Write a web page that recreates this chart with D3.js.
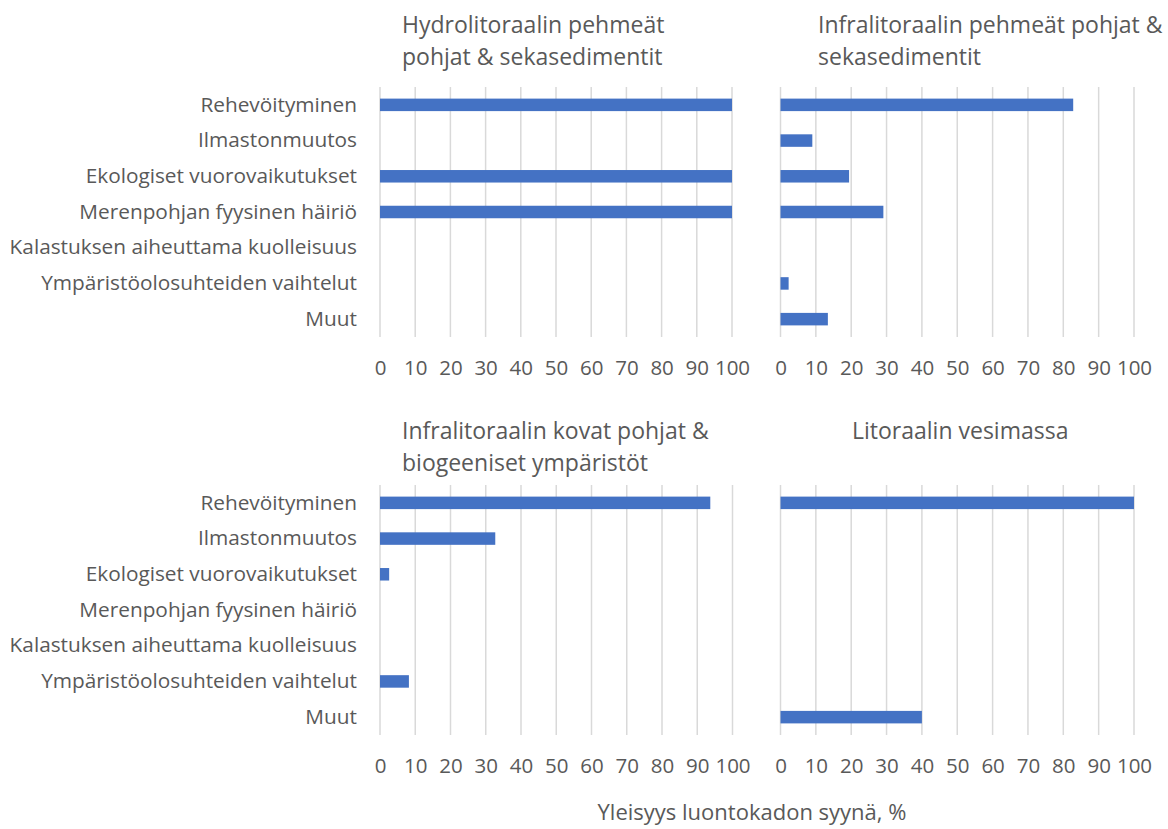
<!DOCTYPE html>
<html>
<head>
<meta charset="utf-8">
<script src="https://cdn.jsdelivr.net/npm/d3@7"></script>
<style>
  html, body { margin: 0; padding: 0; background: #ffffff; }
  svg { display: block; }
  text { font-family: "Open Sans", "Noto Sans", sans-serif; fill: #595959; }
</style>
</head>
<body>
<svg id="chart" width="1168" height="829"></svg>
<script>
// Pressure categories, shared by all four panels (top to bottom)
const categories = [
  "Rehevöityminen",
  "Ilmastonmuutos",
  "Ekologiset vuorovaikutukset",
  "Merenpohjan fyysinen häiriö",
  "Kalastuksen aiheuttama kuolleisuus",
  "Ympäristöolosuhteiden vaihtelut",
  "Muut"
];

// Share (%) of habitat types where each pressure causes loss
const hydroSoft = [100, 0, 100, 100, 0, 0, 0];
const infraSoft = [82.8, 9, 19.4, 29.1, 0, 2.3, 13.4];
const infraHard = [93.7, 32.7, 2.6, 0, 0, 8.2, 0];
const littoralWater = [100, 0, 0, 0, 0, 0, 40];

const panelTitles = [
  ["Hydrolitoraalin pehmeät", "pohjat & sekasedimentit"],
  ["Infralitoraalin pehmeät pohjat &", "sekasedimentit"],
  ["Infralitoraalin kovat pohjat &", "biogeeniset ympäristöt"],
  ["Litoraalin vesimassa"]
];

const tickValues = [0, 10, 20, 30, 40, 50, 60, 70, 80, 90, 100];
const axisTitle = "Yleisyys luontokadon syynä, %";

const svg = d3.select("#chart");

// Layout of the 2x2 grid of panels
const panels = [
  { values: hydroSoft,     title: panelTitles[0], x0: 380,   x1: 732,   y0: 87,  y1: 337, tx: 402, ty: 25,  labels: true },
  { values: infraSoft,     title: panelTitles[1], x0: 780.5, x1: 1134,  y0: 87,  y1: 337, tx: 818, ty: 25,  labels: false },
  { values: infraHard,     title: panelTitles[2], x0: 380,   x1: 732.5, y0: 485, y1: 735, tx: 402, ty: 431, labels: true },
  { values: littoralWater, title: panelTitles[3], x0: 780.5, x1: 1134,  y0: 485, y1: 735, tx: 852, ty: 431, labels: false }
];

panels.forEach(p => {
  const x = d3.scaleLinear().domain([0, 100]).range([p.x0, p.x1]);
  const y = d3.scaleBand().domain(categories).range([p.y0, p.y1])
    .paddingInner(0.65).paddingOuter(0.325);

  const g = svg.append("g");

  // vertical gridlines
  g.append("g")
    .selectAll("line")
    .data(tickValues)
    .join("line")
    .attr("x1", d => x(d)).attr("x2", d => x(d))
    .attr("y1", p.y0).attr("y2", p.y1)
    .attr("stroke", "#d9d9d9")
    .attr("stroke-width", 1.5);

  // bars
  g.append("g")
    .selectAll("rect")
    .data(categories.map((c, i) => ({ c, v: p.values[i] })).filter(d => d.v > 0))
    .join("rect")
    .attr("x", x(0))
    .attr("y", d => y(d.c))
    .attr("width", d => x(d.v) - x(0))
    .attr("height", y.bandwidth())
    .attr("fill", "#4472c4");

  // x axis tick labels
  const xAxis = d3.axisBottom(x).tickValues(tickValues).tickSize(0).tickPadding(0);
  const ax = g.append("g")
    .attr("transform", `translate(0,${p.y1 + 31})`)
    .call(xAxis);
  ax.select(".domain").remove();
  ax.selectAll("text")
    .attr("dy", "0.36em")
    .attr("y", 0)
    .style("font-size", "20.5px")
    .style("font-family", '"Open Sans", sans-serif')
    .attr("fill", "#595959");

  // category labels
  if (p.labels) {
    const yAxis = d3.axisLeft(y).tickSize(0).tickPadding(0);
    const ay = g.append("g")
      .attr("transform", `translate(357,0)`)
      .call(yAxis);
    ay.select(".domain").remove();
    ay.selectAll("text")
      .style("font-size", "20.8px")
      .style("font-family", '"Open Sans", sans-serif')
      .attr("fill", "#595959");
  }

  // panel title
  const t = g.append("text")
    .attr("x", p.tx)
    .attr("y", p.ty)
    .style("font-size", "23px");
  p.title.forEach((line, i) => {
    t.append("tspan").attr("x", p.tx).attr("dy", i === 0 ? "0.36em" : "32px").text(line);
  });
});

// shared x axis title
svg.append("text")
  .attr("x", 752)
  .attr("y", 812)
  .attr("dy", "0.36em")
  .attr("text-anchor", "middle")
  .style("font-size", "22px")
  .text(axisTitle);
</script>
</body>
</html>
